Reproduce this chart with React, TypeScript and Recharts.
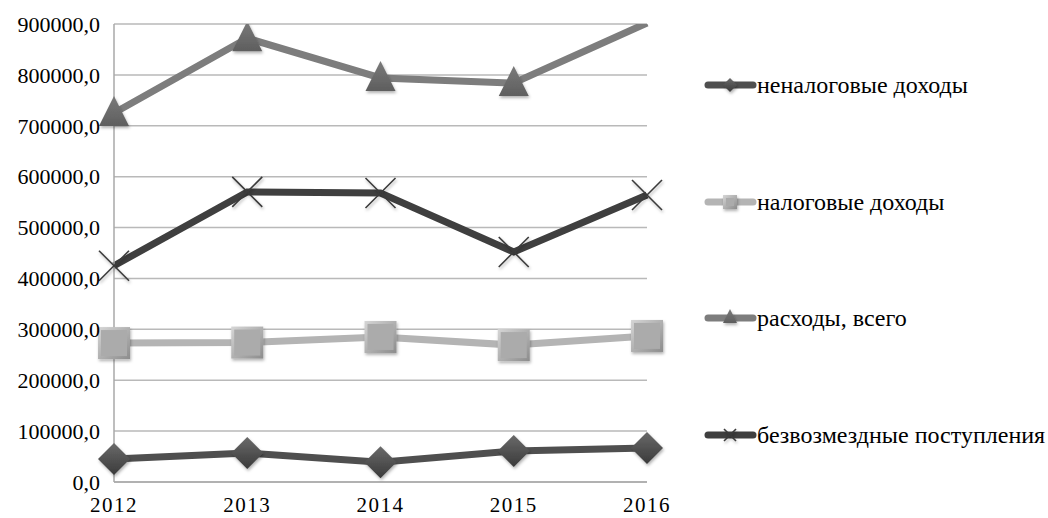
import { LineChart, Line, XAxis, YAxis, CartesianGrid } from 'recharts';

const years = ['2012', '2013', '2014', '2015', '2016'];
const nonTaxIncome = [45000, 57000, 39000, 61000, 67000];
const taxIncome = [273000, 274000, 285000, 269000, 287000];
const totalExpenses = [725000, 872000, 794000, 784000, 902000];
const grants = [425000, 570000, 568000, 452000, 564000];
const yTicks = [0, 100000, 200000, 300000, 400000, 500000, 600000, 700000, 800000, 900000];
const Y_MAX = 900000;

const data = years.map((year, i) => ({
  year,
  nonTax: nonTaxIncome[i],
  tax: taxIncome[i],
  expenses: totalExpenses[i],
  grants: grants[i],
}));

const FONT = '"Liberation Serif", "DejaVu Serif", serif';

const COLORS = {
  nonTax: '#4f4f4f',
  tax: '#b4b4b4',
  expenses: '#7d7d7d',
  grants: '#3f3f3f',
};

type MarkerProps = { cx?: number; cy?: number; s?: number };

const Diamond = ({ cx = 0, cy = 0, s = 16 }: MarkerProps) => (
  <path
    d={`M${cx},${cy - s} L${cx + s},${cy} L${cx},${cy + s} L${cx - s},${cy} Z`}
    fill="url(#diamondFill)"
    filter="url(#markShadow)"
  />
);

const Square = ({ cx = 0, cy = 0, s = 16 }: MarkerProps) => (
  <g filter="url(#markShadow)">
    <rect x={cx - s} y={cy - s} width={s * 2} height={s * 2} fill="url(#squareFill)" />
    <rect x={cx - s + 3} y={cy - s + 3} width={s * 2 - 6} height={s * 2 - 6} fill="#ababab" />
  </g>
);

const Triangle = ({ cx = 0, cy = 0, s = 15 }: MarkerProps) => (
  <path
    d={`M${cx},${cy - s - 2} L${cx + s},${cy + s - 2} L${cx - s},${cy + s - 2} Z`}
    fill="url(#triangleFill)"
    filter="url(#markShadow)"
  />
);

const Cross = ({ cx = 0, cy = 0, s = 15 }: MarkerProps) => (
  <g stroke="#3a3a3a" strokeWidth={1.6} filter="url(#markShadow)">
    <line x1={cx - s} y1={cy - s} x2={cx + s} y2={cy + s} />
    <line x1={cx - s} y1={cy + s} x2={cx + s} y2={cy - s} />
  </g>
);

// points above the axis maximum get no marker (the line is clipped there)
const dotFor = (Shape: (p: MarkerProps) => JSX.Element) => (p: any) =>
  p.value > Y_MAX ? <g key={p.index} /> : <Shape key={p.index} cx={p.cx} cy={p.cy} />;

const legendItems = [
  { label: 'неналоговые доходы', color: COLORS.nonTax, Shape: Diamond, s: 7 },
  { label: 'налоговые доходы', color: COLORS.tax, Shape: Square, s: 7 },
  { label: 'расходы, всего', color: COLORS.expenses, Shape: Triangle, s: 7 },
  { label: 'безвозмездные поступления', color: COLORS.grants, Shape: Cross, s: 6 },
];

function SideLegend() {
  return (
    <div style={{ position: 'absolute', left: 703, top: 68, width: 345 }}>
      {legendItems.map(({ label, color, Shape, s }) => (
        <div key={label} style={{ height: 116.7, display: 'flex', alignItems: 'flex-start' }}>
          <svg width={54} height={34} style={{ flex: 'none' }}>
            <line x1={5} y1={17} x2={50} y2={17} stroke={color} strokeWidth={7} strokeLinecap="round" />
            <Shape cx={27} cy={17} s={s} />
          </svg>
          <span style={{ fontFamily: FONT, fontSize: 24, color: '#000', lineHeight: '34px', whiteSpace: 'nowrap' }}>
            {label}
          </span>
        </div>
      ))}
    </div>
  );
}

export default function App() {
  return (
    <div style={{ position: 'absolute', left: 0, top: 0, width: 1048, height: 518, background: '#fff' }}>
      <LineChart width={1048} height={518} data={data} margin={{ top: 24, right: 401, bottom: 6, left: 10 }}>
        <defs>
          <linearGradient id="diamondFill" x1="0" y1="0" x2="0" y2="1">
            <stop offset="0%" stopColor="#6a6a6a" />
            <stop offset="100%" stopColor="#3a3a3a" />
          </linearGradient>
          <linearGradient id="squareFill" x1="0" y1="0" x2="1" y2="1">
            <stop offset="0%" stopColor="#d6d6d6" />
            <stop offset="100%" stopColor="#8c8c8c" />
          </linearGradient>
          <linearGradient id="triangleFill" x1="0" y1="0" x2="0" y2="1">
            <stop offset="0%" stopColor="#7a7a7a" />
            <stop offset="100%" stopColor="#5e5e5e" />
          </linearGradient>
          <filter id="markShadow" x="-50%" y="-50%" width="200%" height="200%">
            <feDropShadow dx="1" dy="2" stdDeviation="1.5" floodColor="#000" floodOpacity="0.3" />
          </filter>
        </defs>
        <CartesianGrid vertical={false} stroke="#b9b9b9" strokeWidth={1.5} />
        <XAxis
          dataKey="year"
          axisLine={{ stroke: '#a8a8a8', strokeWidth: 1.5 }}
          tickLine={false}
          tickSize={0}
          tickMargin={15}
          height={30}
          tick={{ fontFamily: FONT, fontSize: 21, fill: '#000', letterSpacing: 1.5 }}
        />
        <YAxis
          domain={[0, Y_MAX]}
          ticks={yTicks}
          allowDataOverflow
          width={104}
          axisLine={{ stroke: '#a8a8a8', strokeWidth: 1.5 }}
          tickLine={false}
          tickSize={0}
          tickMargin={14}
          tick={{ fontFamily: FONT, fontSize: 22, fill: '#000' }}
          tickFormatter={(v: number) => `${v},0`}
        />
        <Line dataKey="nonTax" stroke={COLORS.nonTax} strokeWidth={7} dot={dotFor(Diamond)} isAnimationActive={false} />
        <Line dataKey="tax" stroke={COLORS.tax} strokeWidth={7} dot={dotFor(Square)} isAnimationActive={false} />
        <Line dataKey="expenses" stroke={COLORS.expenses} strokeWidth={7} dot={dotFor(Triangle)} isAnimationActive={false} />
        <Line dataKey="grants" stroke={COLORS.grants} strokeWidth={7} dot={dotFor(Cross)} isAnimationActive={false} />
      </LineChart>
      <SideLegend />
    </div>
  );
}
